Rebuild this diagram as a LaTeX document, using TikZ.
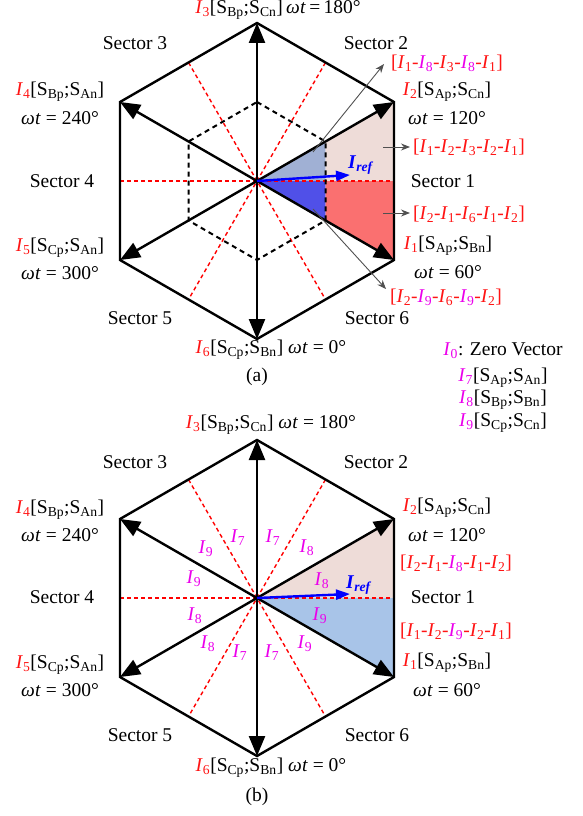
\documentclass[tikz,border=0pt]{standalone}
\usepackage{fontspec}
\setmainfont{Liberation Serif}
\usetikzlibrary{arrows.meta}
\definecolor{ired}{RGB}{255,20,20}
\definecolor{imag}{RGB}{235,0,235}
\definecolor{pinkf}{RGB}{238,220,216}
\definecolor{bgray}{RGB}{160,176,212}
\definecolor{blu}{RGB}{80,80,232}
\definecolor{redf}{RGB}{250,112,112}
\definecolor{lblue}{RGB}{168,196,232}
\definecolor{grayar}{RGB}{80,80,80}
\newcommand\myIR[1]{\textcolor{ired}{\textit{I}\textsubscript{#1}}}
\newcommand\myIM[1]{\textcolor{imag}{\textit{I}\textsubscript{#1}}}
\newcommand\mySW[1]{S\textsubscript{#1}}
\newcommand\myWT{\textit{ω}\kern0.3pt\textit{t}}
\newcommand\myIref{\textcolor{blue}{\textbf{\textit{I}}\textsubscript{\textbf{\textit{ref}}}}}
\tikzset{
 hexline/.style={line width=2.4pt, line join=miter},
 vecarrow/.style={line width=2.4pt, -{Triangle[length=20pt,width=16pt]}},
 reddash/.style={red, line width=1.4pt, dash pattern=on 4pt off 3pt},
 innerdash/.style={line width=2pt, dash pattern=on 5pt off 4pt},
 pointer/.style={grayar, line width=0.9pt, -{Stealth[length=9pt,width=7pt]}},
 lbl/.style={inner sep=0pt, font=\fontsize{19.5}{22}\selectfont},
 mlbl/.style={inner sep=0pt, font=\fontsize{19.5}{22}\selectfont, text=imag},
 irefarrow/.style={blue, line width=2.4pt, -{Triangle[length=14pt,width=10pt]}},
}
\begin{document}
\begin{tikzpicture}[x=1pt,y=-1pt]
\useasboundingbox (0,0) rectangle (583,816);
% ================= (a) =================
\begin{scope}[shift={(257,181)}]
 \coordinate (aO) at (0,0);
 \coordinate (aT) at (0,-158);
 \coordinate (aUR) at (137,-79);
 \coordinate (aLR) at (137,79);
 \coordinate (aB) at (0,158);
 \coordinate (aLL) at (-137,79);
 \coordinate (aUL) at (-137,-79);
 \coordinate (aiT) at (0,-79);
 \coordinate (aiUR) at (68.5,-39.5);
 \coordinate (aiLR) at (68.5,39.5);
 \coordinate (aiB) at (0,79);
 \coordinate (aiLL) at (-68.5,39.5);
 \coordinate (aiUL) at (-68.5,-39.5);
 \coordinate (aiR) at (68.5,0);
 \coordinate (amR) at (137,0);
 \coordinate (amL) at (-137,0);
 \coordinate (amTR) at (68.5,-118.5);
 \coordinate (amTL) at (-68.5,-118.5);
 \coordinate (amBR) at (68.5,118.5);
 \coordinate (amBL) at (-68.5,118.5);
 \coordinate (aIt) at (93,-6);
 \fill[bgray] (aO) -- (aiUR) -- (aiR) -- cycle;
 \fill[pinkf] (aiUR) -- (aUR) -- (amR) -- (aiR) -- cycle;
 \fill[blu] (aO) -- (aiLR) -- (aiR) -- cycle;
 \fill[redf] (aiR) -- (amR) -- (aLR) -- (aiLR) -- cycle;
 \draw[reddash] (amL) -- (amR);
 \draw[reddash] (amTL) -- (amBR);
 \draw[reddash] (amTR) -- (amBL);
 \draw[innerdash] (aiT) -- (aiUR) -- (aiLR) -- (aiB) -- (aiLL) -- (aiUL) -- cycle;
 \draw[hexline] (aT) -- (aUR) -- (aLR) -- (aB) -- (aLL) -- (aUL) -- cycle;
 \foreach \v in {aT,aUR,aLR,aB,aLL,aUL} \draw[vecarrow] (aO) -- (\v);
 \draw[irefarrow] (aO) -- (aIt);
\end{scope}
\node[lbl] (aIref) at (361,165) {\myIref};
% pointers (a)
\coordinate (ap1s) at (313,152);
\coordinate (ap1e) at (384,64);
\coordinate (ap2s) at (383,147);
\coordinate (ap2e) at (410,147);
\coordinate (ap3s) at (383,213);
\coordinate (ap3e) at (410,213);
\coordinate (ap4s) at (313,209);
\coordinate (ap4e) at (386,289);
\draw[pointer] (ap1s) -- (ap1e);
\draw[pointer] (ap2s) -- (ap2e);
\draw[pointer] (ap3s) -- (ap3e);
\draw[pointer] (ap4s) -- (ap4e);
% labels (a)
\node[lbl] (aL3) at (278,10) {\myIR{3}[\mySW{Bp};\mySW{Cn}]\,\myWT\,=\,180°};
\node[lbl] (aS3) at (135,43) {Sector 3};
\node[lbl] (aS2) at (376,43) {Sector 2};
\node[lbl,text=ired] (aSeq1) at (447,63) {[\myIR{1}-\myIM{8}-\myIR{3}-\myIM{8}-\myIR{1}]};
\node[lbl] (aL2) at (447,92) {\myIR{2}[\mySW{Ap};\mySW{Cn}]};
\node[lbl] (aW2) at (447,118) {\myWT\ = 120°};
\node[lbl,text=ired] (aSeq2) at (469,147) {[\myIR{1}-\myIR{2}-\myIR{3}-\myIR{2}-\myIR{1}]};
\node[lbl] (aS1) at (443,181) {Sector 1};
\node[lbl,text=ired] (aSeq3) at (469,214) {[\myIR{2}-\myIR{1}-\myIR{6}-\myIR{1}-\myIR{2}]};
\node[lbl] (aL1) at (448,246) {\myIR{1}[\mySW{Ap};\mySW{Bn}]};
\node[lbl] (aW1) at (448,272) {\myWT\ = 60°};
\node[lbl,text=ired] (aSeq4) at (446,297) {[\myIR{2}-\myIM{9}-\myIR{6}-\myIM{9}-\myIR{2}]};
\node[lbl] (aS6) at (377,318) {Sector 6};
\node[lbl] (aS5) at (140,318) {Sector 5};
\node[lbl] (aL6) at (271,350) {\myIR{6}[\mySW{Cp};\mySW{Bn}] \myWT\ = 0°};
\node[lbl] (acap) at (257,377) {(a)};
\node[lbl] (aS4) at (62,181) {Sector 4};
\node[lbl] (aL4) at (60,92) {\myIR{4}[\mySW{Bp};\mySW{An}]};
\node[lbl] (aW4) at (60,118) {\myWT\ = 240°};
\node[lbl] (aL5) at (60,248) {\myIR{5}[\mySW{Cp};\mySW{An}]};
\node[lbl] (aW5) at (60,273) {\myWT\ = 300°};
% legend
\node[lbl] (lg0) at (503,351) {\myIM{0}: Zero Vector};
\node[lbl] (lg7) at (503,378) {\myIM{7}[\mySW{Ap};\mySW{An}]};
\node[lbl] (lg8) at (503,400) {\myIM{8}[\mySW{Bp};\mySW{Bn}]};
\node[lbl] (lg9) at (503,423) {\myIM{9}[\mySW{Cp};\mySW{Cn}]};
% ================= (b) =================
\begin{scope}[shift={(257,598)}]
 \coordinate (bO) at (0,0);
 \coordinate (bT) at (0,-158);
 \coordinate (bUR) at (137,-79);
 \coordinate (bLR) at (137,79);
 \coordinate (bB) at (0,158);
 \coordinate (bLL) at (-137,79);
 \coordinate (bUL) at (-137,-79);
 \coordinate (bmR) at (137,0);
 \coordinate (bmL) at (-137,0);
 \coordinate (bmTR) at (68.5,-118.5);
 \coordinate (bmTL) at (-68.5,-118.5);
 \coordinate (bmBR) at (68.5,118.5);
 \coordinate (bmBL) at (-68.5,118.5);
 \coordinate (bIt) at (93,-4);
 \fill[pinkf] (bO) -- (bUR) -- (bmR) -- cycle;
 \fill[lblue] (bO) -- (bmR) -- (bLR) -- cycle;
 \draw[reddash] (bmL) -- (bmR);
 \draw[reddash] (bmTL) -- (bmBR);
 \draw[reddash] (bmTR) -- (bmBL);
 \draw[hexline] (bT) -- (bUR) -- (bLR) -- (bB) -- (bLL) -- (bUL) -- cycle;
 \foreach \v in {bT,bUR,bLR,bB,bLL,bUL} \draw[vecarrow] (bO) -- (\v);
 \draw[irefarrow] (bO) -- (bIt);
 \node[mlbl] (bm1) at (-19,-60) {\textit{I}\textsubscript{7}};
 \node[mlbl] (bm2) at (16,-60) {\textit{I}\textsubscript{7}};
 \node[mlbl] (bm3) at (50,-50) {\textit{I}\textsubscript{8}};
 \node[mlbl] (bm4) at (-51,-49) {\textit{I}\textsubscript{9}};
 \node[mlbl] (bm5) at (-63,-19) {\textit{I}\textsubscript{9}};
 \node[mlbl] (bm6) at (65,-17) {\textit{I}\textsubscript{8}};
 \node[mlbl] (bm7) at (-62,18) {\textit{I}\textsubscript{8}};
 \node[mlbl] (bm8) at (63,18) {\textit{I}\textsubscript{9}};
 \node[mlbl] (bm9) at (-49,46) {\textit{I}\textsubscript{8}};
 \node[mlbl] (bm10) at (-17,55) {\textit{I}\textsubscript{7}};
 \node[mlbl] (bm11) at (15,55) {\textit{I}\textsubscript{7}};
 \node[mlbl] (bm12) at (48,46) {\textit{I}\textsubscript{9}};
\end{scope}
\node[lbl] (bIref) at (359,585) {\myIref};
\node[lbl] (bL3) at (271,425) {\myIR{3}[\mySW{Bp};\mySW{Cn}] \myWT\ = 180°};
\node[lbl] (bS3) at (135,462) {Sector 3};
\node[lbl] (bS2) at (376,462) {Sector 2};
\node[lbl] (bL2) at (447,508) {\myIR{2}[\mySW{Ap};\mySW{Cn}]};
\node[lbl] (bW2) at (447,535) {\myWT\ = 120°};
\node[lbl,text=ired] (bSeq1) at (456,563) {[\myIR{2}-\myIR{1}-\myIM{8}-\myIR{1}-\myIR{2}]};
\node[lbl] (bS1) at (443,597) {Sector 1};
\node[lbl,text=ired] (bSeq2) at (456,631) {[\myIR{1}-\myIR{2}-\myIM{9}-\myIR{2}-\myIR{1}]};
\node[lbl] (bL1) at (447,663) {\myIR{1}[\mySW{Ap};\mySW{Bn}]};
\node[lbl] (bW1) at (447,690) {\myWT\ = 60°};
\node[lbl] (bS6) at (377,735) {Sector 6};
\node[lbl] (bS5) at (140,735) {Sector 5};
\node[lbl] (bL6) at (271,768) {\myIR{6}[\mySW{Cp};\mySW{Bn}] \myWT\ = 0°};
\node[lbl] (bcap) at (257,797) {(b)};
\node[lbl] (bL4) at (60,510) {\myIR{4}[\mySW{Bp};\mySW{An}]};
\node[lbl] (bW4) at (60,535) {\myWT\ = 240°};
\node[lbl] (bS4) at (62,597) {Sector 4};
\node[lbl] (bL5) at (60,665) {\myIR{5}[\mySW{Cp};\mySW{An}]};
\node[lbl] (bW5) at (60,690) {\myWT\ = 300°};
\end{tikzpicture}
\end{document}
